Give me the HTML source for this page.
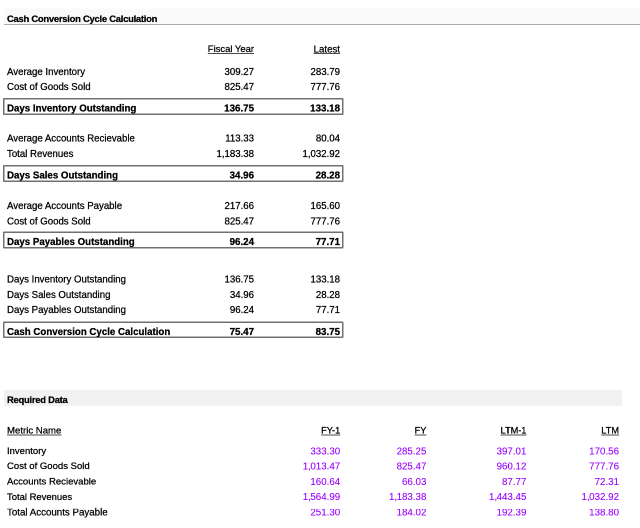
<!DOCTYPE html>
<html><head><meta charset="utf-8"><style>
html,body{margin:0;padding:0;background:#fff;width:640px;height:528px;overflow:hidden;position:relative}
body{font-family:"Liberation Sans",sans-serif;color:#000}
#w{position:absolute;left:0;top:0;width:1280px;height:1056px;transform:scale(0.5);transform-origin:0 0;will-change:transform;background:#fff}
.t{position:absolute;white-space:nowrap;line-height:40px;height:40px;-webkit-text-stroke:0.5px currentColor}
.r{text-align:right}
.cm{letter-spacing:-1px}
.p{color:#9900ff;-webkit-text-stroke:0.2px #9900ff}
.u{text-decoration:underline;text-decoration-color:#4a4a4a;text-decoration-thickness:2.3px;text-underline-offset:2px;text-decoration-skip-ink:none}
.bx{position:absolute;border:3px solid #707070;border-radius:2px;box-sizing:border-box}
.ul{position:absolute;background:#555}
</style></head><body><div id="w">
<div style="position:absolute;left:8.00px;top:17.00px;width:1272.00px;height:31.00px;background:#fafafa;border-bottom:2.00px solid #aaa"></div>
<div style="position:absolute;left:8.00px;top:780.00px;width:1236.00px;height:32.00px;background:#f1f1f1"></div>

<div class="bx" style="left:6.40px;top:196.00px;width:680.60px;height:33.60px"></div>
<div class="bx" style="left:6.40px;top:330.20px;width:680.60px;height:33.60px"></div>
<div class="bx" style="left:6.40px;top:463.40px;width:680.60px;height:33.60px"></div>
<div class="bx" style="left:6.40px;top:642.80px;width:680.60px;height:33.60px"></div>
<div class="t" style="top:17.85px;font-size:18.90px;font-weight:700;letter-spacing:-0.54px;left:14.00px;">Cash Conversion Cycle Calculation</div>
<div class="t r u" style="top:77.85px;font-size:18.90px;text-underline-offset:2.0px;right:772.00px;">Fiscal Year</div>
<div class="t r u" style="top:77.68px;font-size:19.40px;text-underline-offset:1.4px;right:600.00px;">Latest</div>
<div class="t" style="top:123.51px;font-size:19.30px;left:14.00px;">Average Inventory</div>
<div class="t r" style="top:123.51px;font-size:19.30px;right:772.00px;">309.27</div>
<div class="t r" style="top:123.51px;font-size:19.30px;right:600.00px;">283.79</div>
<div class="t" style="top:153.71px;font-size:19.30px;left:14.00px;">Cost of Goods Sold</div>
<div class="t r" style="top:153.71px;font-size:19.30px;right:772.00px;">825.47</div>
<div class="t r" style="top:153.71px;font-size:19.30px;right:600.00px;">777.76</div>
<div class="t" style="top:195.88px;font-size:19.40px;font-weight:700;left:14.00px;">Days Inventory Outstanding</div>
<div class="t r" style="top:195.84px;font-size:19.50px;font-weight:700;right:772.00px;">136.75</div>
<div class="t r" style="top:195.84px;font-size:19.50px;font-weight:700;right:600.00px;">133.18</div>
<div class="t" style="top:257.31px;font-size:19.30px;left:14.00px;">Average Accounts Recievable</div>
<div class="t r" style="top:257.31px;font-size:19.30px;right:772.00px;">113.33</div>
<div class="t r" style="top:257.31px;font-size:19.30px;right:600.00px;">80.04</div>
<div class="t" style="top:288.11px;font-size:19.30px;left:14.00px;">Total Revenues</div>
<div class="t r" style="top:288.11px;font-size:19.30px;right:772.00px;">1,183.38</div>
<div class="t r" style="top:288.11px;font-size:19.30px;right:600.00px;">1,032.92</div>
<div class="t" style="top:330.08px;font-size:19.40px;font-weight:700;left:14.00px;">Days Sales Outstanding</div>
<div class="t r" style="top:330.04px;font-size:19.50px;font-weight:700;right:772.00px;">34.96</div>
<div class="t r" style="top:330.04px;font-size:19.50px;font-weight:700;right:600.00px;">28.28</div>
<div class="t" style="top:392.11px;font-size:19.30px;left:14.00px;">Average Accounts Payable</div>
<div class="t r" style="top:392.11px;font-size:19.30px;right:772.00px;">217.66</div>
<div class="t r" style="top:392.11px;font-size:19.30px;right:600.00px;">165.60</div>
<div class="t" style="top:422.91px;font-size:19.30px;left:14.00px;">Cost of Goods Sold</div>
<div class="t r" style="top:422.91px;font-size:19.30px;right:772.00px;">825.47</div>
<div class="t r" style="top:422.91px;font-size:19.30px;right:600.00px;">777.76</div>
<div class="t" style="top:463.28px;font-size:19.40px;font-weight:700;left:14.00px;">Days Payables Outstanding</div>
<div class="t r" style="top:463.24px;font-size:19.50px;font-weight:700;right:772.00px;">96.24</div>
<div class="t r" style="top:463.24px;font-size:19.50px;font-weight:700;right:600.00px;">77.71</div>
<div class="t" style="top:539.11px;font-size:19.30px;left:14.00px;">Days Inventory Outstanding</div>
<div class="t r" style="top:539.11px;font-size:19.30px;right:772.00px;">136.75</div>
<div class="t r" style="top:539.11px;font-size:19.30px;right:600.00px;">133.18</div>
<div class="t" style="top:569.91px;font-size:19.30px;left:14.00px;">Days Sales Outstanding</div>
<div class="t r" style="top:569.91px;font-size:19.30px;right:772.00px;">34.96</div>
<div class="t r" style="top:569.91px;font-size:19.30px;right:600.00px;">28.28</div>
<div class="t" style="top:600.31px;font-size:19.30px;left:14.00px;">Days Payables Outstanding</div>
<div class="t r" style="top:600.31px;font-size:19.30px;right:772.00px;">96.24</div>
<div class="t r" style="top:600.31px;font-size:19.30px;right:600.00px;">77.71</div>
<div class="t" style="top:642.68px;font-size:19.40px;font-weight:700;left:14.00px;">Cash Conversion Cycle Calculation</div>
<div class="t r" style="top:642.64px;font-size:19.50px;font-weight:700;right:772.00px;">75.47</div>
<div class="t r" style="top:642.64px;font-size:19.50px;font-weight:700;right:600.00px;">83.75</div>
<div class="t" style="top:780.09px;font-size:18.80px;font-weight:700;letter-spacing:-0.48px;left:14.00px;">Required Data</div>
<div class="t u" style="top:840.75px;font-size:19.20px;left:14.00px;">Metric Name</div>
<div class="t r u" style="top:840.62px;font-size:18.40px;right:599.60px;">FY-1</div>
<div class="t r u" style="top:840.62px;font-size:18.40px;right:427.20px;">FY</div>
<div class="t r u" style="top:840.62px;font-size:18.40px;right:227.20px;">LTM-1</div>
<div class="t r u" style="top:840.62px;font-size:18.40px;right:42.00px;">LTM</div>
<div class="t" style="top:882.01px;font-size:19.02px;left:14.00px;">Inventory</div>
<div class="t r p" style="top:881.84px;font-size:19.50px;right:599.60px;">333.30</div>
<div class="t r p" style="top:881.84px;font-size:19.50px;right:427.20px;">285.25</div>
<div class="t r p" style="top:881.84px;font-size:19.50px;right:227.20px;">397.01</div>
<div class="t r p" style="top:881.84px;font-size:19.50px;right:42.00px;">170.56</div>
<div class="t" style="top:912.39px;font-size:19.08px;left:14.00px;">Cost of Goods Sold</div>
<div class="t r p" style="top:912.24px;font-size:19.50px;right:599.60px;">1<span class="cm">,</span>013.47</div>
<div class="t r p" style="top:912.24px;font-size:19.50px;right:427.20px;">825.47</div>
<div class="t r p" style="top:912.24px;font-size:19.50px;right:227.20px;">960.12</div>
<div class="t r p" style="top:912.24px;font-size:19.50px;right:42.00px;">777.76</div>
<div class="t" style="top:943.37px;font-size:19.12px;left:14.00px;">Accounts Recievable</div>
<div class="t r p" style="top:943.24px;font-size:19.50px;right:599.60px;">160.64</div>
<div class="t r p" style="top:943.24px;font-size:19.50px;right:427.20px;">66.03</div>
<div class="t r p" style="top:943.24px;font-size:19.50px;right:227.20px;">87.77</div>
<div class="t r p" style="top:943.24px;font-size:19.50px;right:42.00px;">72.31</div>
<div class="t" style="top:973.65px;font-size:18.90px;left:14.00px;">Total Revenues</div>
<div class="t r p" style="top:973.44px;font-size:19.50px;right:599.60px;">1<span class="cm">,</span>564.99</div>
<div class="t r p" style="top:973.44px;font-size:19.50px;right:427.20px;">1<span class="cm">,</span>183.38</div>
<div class="t r p" style="top:973.44px;font-size:19.50px;right:227.20px;">1<span class="cm">,</span>443.45</div>
<div class="t r p" style="top:973.44px;font-size:19.50px;right:42.00px;">1<span class="cm">,</span>032.92</div>
<div class="t" style="top:1003.85px;font-size:19.48px;left:14.00px;">Total Accounts Payable</div>
<div class="t r p" style="top:1003.84px;font-size:19.50px;right:599.60px;">251.30</div>
<div class="t r p" style="top:1003.84px;font-size:19.50px;right:427.20px;">184.02</div>
<div class="t r p" style="top:1003.84px;font-size:19.50px;right:227.20px;">192.39</div>
<div class="t r p" style="top:1003.84px;font-size:19.50px;right:42.00px;">138.80</div>
</div></body></html>
